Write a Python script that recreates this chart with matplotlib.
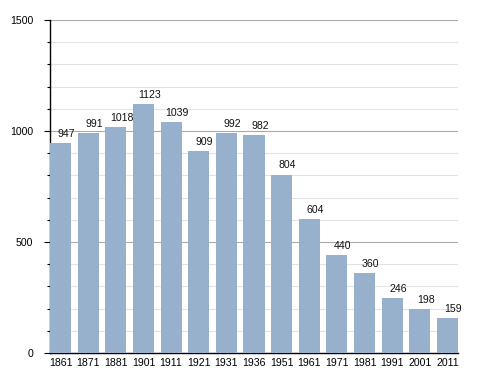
import numpy as np
import matplotlib
matplotlib.use("Agg")
import matplotlib.pyplot as plt
from matplotlib.ticker import MultipleLocator

years = ["1861", "1871", "1881", "1901", "1911", "1921", "1931", "1936",
         "1951", "1961", "1971", "1981", "1991", "2001", "2011"]
population = [947, 991, 1018, 1123, 1039, 909, 992, 982,
              804, 604, 440, 360, 246, 198, 159]

plt.rcParams['font.family'] = ['Liberation Sans', 'DejaVu Sans']

fig = plt.figure(figsize=(4.88, 3.73), dpi=100)
ax = fig.add_axes([50 / 488, 20 / 373, 408 / 488, 333 / 373])

x = np.arange(len(years))
bars = ax.bar(x, population, width=0.76, color="#97b0cc", zorder=3)

for xi, v in zip(x, population):
    ax.annotate(str(v), (xi, v), xytext=(4.3, 3), textcoords="offset points",
                ha="center", va="bottom", fontsize=7.6, color="#111111")

ax.set_xlim(-0.38, len(years) - 1 + 0.38)
ax.set_ylim(0, 1500)
ax.set_xticks(x)
ax.set_xticklabels(years, fontsize=7.6)
ax.yaxis.set_major_locator(MultipleLocator(500))
ax.yaxis.set_minor_locator(MultipleLocator(100))
ax.tick_params(axis="y", which="major", length=4, width=0.8, labelsize=7.6, pad=8)
ax.tick_params(axis="y", which="minor", length=2.5, width=0.8)
ax.tick_params(axis="x", length=0, pad=3.5)

ax.grid(axis="y", which="minor", color="#e2e2e2", linewidth=0.8, zorder=0)
ax.grid(axis="y", which="major", color="#aaaaaa", linewidth=0.8, zorder=1)

ax.spines["top"].set_visible(False)
ax.spines["right"].set_visible(False)
ax.spines["left"].set_linewidth(1.0)
ax.spines["bottom"].set_linewidth(1.0)

fig.savefig("out.png", dpi=100)
